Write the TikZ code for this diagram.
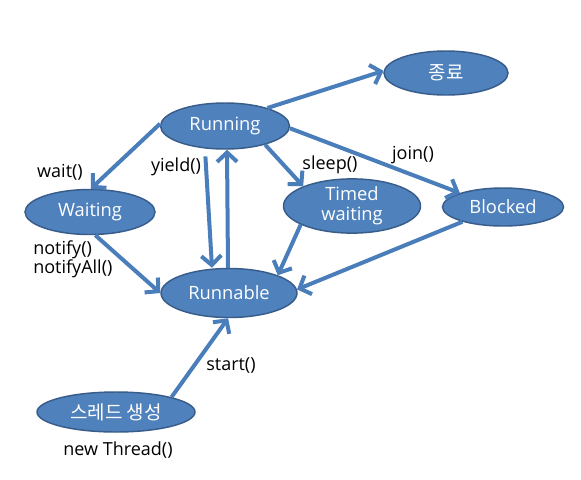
\documentclass[tikz,border=0pt]{standalone}
\usepackage{fontspec}
\setmainfont{Open Sans}
\newfontfamily\kor{Noto Sans CJK KR}
\usetikzlibrary{shapes.geometric,arrows.meta}
\definecolor{nodefill}{HTML}{4F81BD}
\definecolor{nodeedge}{HTML}{385D8A}
\definecolor{arrowc}{HTML}{4A7EBB}
\begin{document}
\begin{tikzpicture}[x=0.75pt,y=-0.75pt,
  state/.style={ellipse, draw=nodeedge, line width=1.1pt, fill=nodefill, text=white,
    font=\fontsize{13.75}{15}\selectfont, inner sep=0pt, align=center},
  conn/.style={draw=arrowc, line width=3pt, -{Straight Barb[length=7pt,width=15pt]}},
  lbl/.style={font=\fontsize{13.5}{14}\selectfont, text=black, inner sep=0pt}]
\fill[white] (0,0) rectangle (581,479);
\useasboundingbox (0,0) rectangle (581,479);

\node[state, minimum width=93pt, minimum height=33pt] (end) at (446,73) {\kor\fontsize{14.25}{15}\selectfont 종료};
\node[state, minimum width=96.75pt, minimum height=34.5pt] (running) at (225,126) {Running};
\node[state, minimum width=97.5pt, minimum height=33.75pt] (waiting) at (90,212) {Waiting};
\node[state, minimum width=102.75pt, minimum height=33pt] (timed) at (352,206) {Timed\\waiting};
\node[state, minimum width=90.75pt, minimum height=28.5pt] (blocked) at (503,207) {Blocked};
\node[state, minimum width=102pt, minimum height=36.75pt] (runnable) at (229,293) {Runnable};
\node[state, minimum width=118.5pt, minimum height=30pt] (create) at (116,412) {\kor\fontsize{14.25}{15}\selectfont 스레드 생성};

\draw[conn] (running.23) -- (end.178);
\draw[conn] (running.178) -- (waiting.88);
\draw[conn] (running.-25) -- (timed.158);
\draw[conn] (running.-2) -- (blocked.162);
\draw[conn, shorten <=5pt] ([xshift=-15pt]running.south) -- ([xshift=-12.75pt]runnable.north);
\draw[conn] ([xshift=-0.75pt]runnable.north) -- ([xshift=1.5pt]running.south);
\draw[conn] ([xshift=4pt]waiting.south) -- (runnable.west);
\draw[conn] (timed.-160) -- (runnable.20);
\draw[conn] (blocked.-160) -- (runnable.3);
\draw[conn] (create.15) -- (runnable.-92);

\node[lbl] (lwait) at (60,172) {wait()};
\node[lbl] (lyield) at (176,167) {yield()};
\node[lbl] (lsleep) at (330,165) {sleep()};
\node[lbl] (ljoin) at (413,155) {join()};
\node[lbl, align=left, anchor=west] (lnotify) at (33,259) {notify()\\notifyAll()};
\node[lbl] (lstart) at (231,365) {start()};
\node[lbl] (lnew) at (118,450) {new Thread()};
\end{tikzpicture}
\end{document}
